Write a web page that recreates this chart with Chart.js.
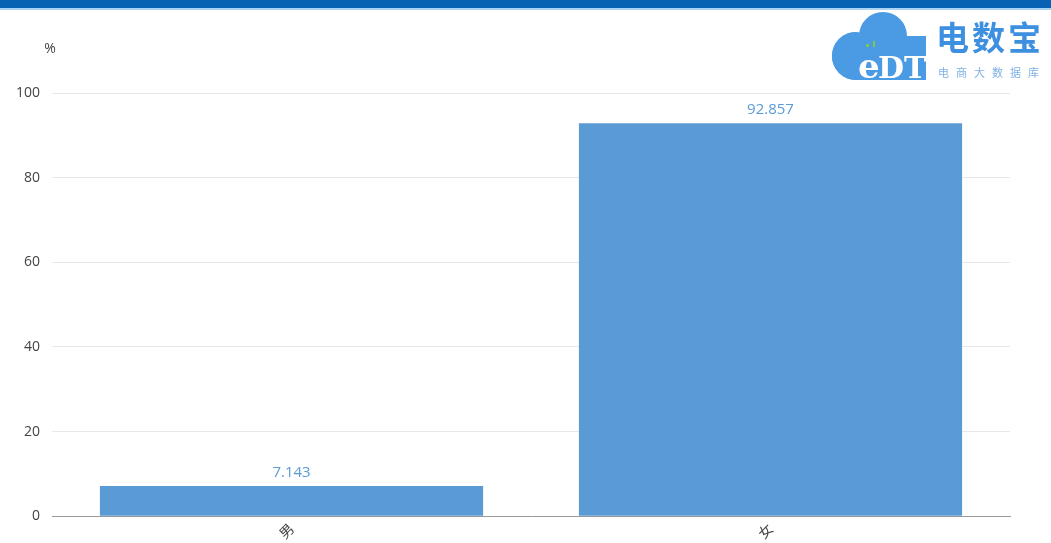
<!DOCTYPE html>
<html>
<head>
<meta charset="utf-8">
<script src="https://cdn.jsdelivr.net/npm/chart.js@4/dist/chart.umd.min.js"></script>
<style>
  html, body { margin: 0; padding: 0; background: #fff; }
  body { width: 1051px; height: 543px; position: relative; overflow: hidden;
         font-family: "Noto Sans CJK SC", "Open Sans", sans-serif; }
  .topbar { position: absolute; left: 0; top: 0; width: 100%; height: 8px;
            background: #0762b4; border-bottom: 2px solid #a9d3f2; }
  .chart-box { position: absolute; left: 0; top: 10px; width: 1051px; height: 536px; }
  .logo { position: absolute; left: 828px; top: 6px; width: 225px; height: 80px; }
  .logo .name { position: absolute; left: 108px; top: 14px; font-size: 33px; font-weight: bold;
                color: #3d8fe0; letter-spacing: 3px; line-height: 1; }
  .logo .sub { position: absolute; left: 110px; top: 61px; font-size: 11px; color: #7fb2e5;
               letter-spacing: 7px; line-height: 1; }
</style>
</head>
<body>
<div class="topbar"></div>
<div class="chart-box"><canvas id="gender-chart"></canvas></div>
<div class="logo">
  <canvas id="logo-cloud" width="105" height="80" style="position:absolute;left:0;top:0"></canvas>
  <div class="name">电数宝</div>
  <div class="sub">电商大数据库</div>
</div>
<script>
// gender share, percent
var categories = ['男', '女'];
var shares = [7.143, 92.857];
var yTicks = [0, 20, 40, 60, 80, 100];

var BAR_COLOR = '#5b9bd5';

// "%" unit above the y axis plus value labels over each bar
var annotate = {
  id: 'annotate',
  afterDatasetsDraw: function(chart) {
    var ctx = chart.ctx;
    var y = chart.scales.y;
    ctx.save();
    ctx.font = '14px "Open Sans", sans-serif';
    ctx.fillStyle = '#444';
    ctx.textAlign = 'center';
    ctx.textBaseline = 'middle';
    ctx.fillText('%', 50, y.top - 44);

    ctx.font = '15px "Open Sans", sans-serif';
    ctx.fillStyle = '#5b9bd5';
    ctx.textBaseline = 'bottom';
    chart.getDatasetMeta(0).data.forEach(function(bar, i) {
      ctx.fillText(shares[i].toFixed(3), bar.x, bar.y - 6);
    });
    ctx.restore();
  }
};

new Chart(document.getElementById('gender-chart').getContext('2d'), {
  type: 'bar',
  data: {
    labels: categories,
    datasets: [{
      data: shares,
      backgroundColor: BAR_COLOR,
      borderWidth: 0,
      categoryPercentage: 0.8,
      barPercentage: 1.0
    }]
  },
  options: {
    responsive: true,
    maintainAspectRatio: false,
    animation: false,
    layout: { padding: { top: 83, right: 41, left: 4, bottom: 0 } },
    plugins: {
      legend: { display: false },
      tooltip: { enabled: false }
    },
    scales: {
      x: {
        grid: { display: false, drawTicks: false },
        border: { color: '#999', width: 1 },
        ticks: {
          color: '#444',
          font: { size: 14, family: '"Noto Sans CJK SC", sans-serif' },
          minRotation: 45,
          maxRotation: 45,
          padding: 4
        }
      },
      y: {
        min: 0,
        max: 100,
        afterBuildTicks: function(axis) {
          axis.ticks = yTicks.map(function(v) { return { value: v }; });
        },
        grid: { color: '#e8e8e8', drawTicks: false },
        border: { display: false },
        ticks: {
          color: '#444',
          font: { size: 14, family: '"Open Sans", sans-serif' },
          padding: 12
        }
      }
    }
  },
  plugins: [annotate]
});

// cloud mark with "eDT" letters
(function drawCloud() {
  var c = document.getElementById('logo-cloud').getContext('2d');
  c.fillStyle = '#4a9ae4';
  c.beginPath();
  c.arc(55, 30, 24, Math.PI, 0);
  c.arc(28, 50, 24, Math.PI * 0.5, Math.PI * 1.5);
  c.fill();
  c.beginPath();
  c.arc(28, 50, 24, 0, Math.PI * 2);
  c.fill();
  c.fillRect(28, 30, 70, 44);
  c.fillStyle = '#fff';
  c.font = 'bold 34px "DejaVu Serif", serif';
  c.textBaseline = 'alphabetic';
  c.fillText('e', 30, 72);
  c.font = 'bold 30px "DejaVu Serif", serif';
  c.fillText('DT', 50, 72);
  c.fillStyle = '#7cc84a';
  c.fillRect(38, 38, 3, 3);
  c.fillRect(45, 35, 2, 6);
})();
</script>
</body>
</html>
